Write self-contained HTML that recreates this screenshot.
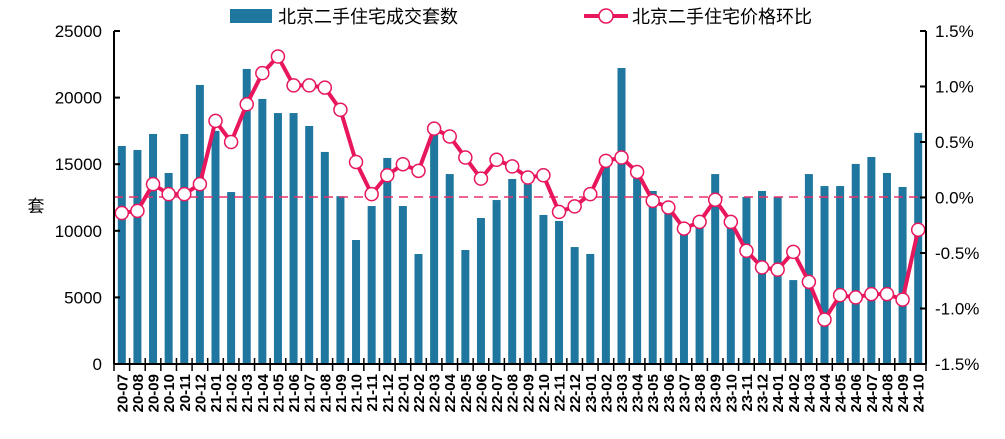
<!DOCTYPE html>
<html><head><meta charset="utf-8"><style>
body{margin:0;background:#fff;}
svg text{font-family:"Liberation Sans","Noto Sans CJK SC",sans-serif;}
</style></head><body>
<svg id="chart" width="1005" height="434" xmlns="http://www.w3.org/2000/svg">
<g id="bars"></g>
<line x1="114" x2="926" y1="197" y2="197" stroke="#e8306a" stroke-width="1.5" stroke-dasharray="9,6"/>
<g id="line"></g>
<g id="axes"></g>
<g>
<rect x="230" y="9" width="42" height="14" fill="#1f77a0"/>
<text x="278" y="23" font-size="18" fill="#000">北京二手住宅成交套数</text>
<line x1="584" x2="628" y1="16" y2="16" stroke="#e8175d" stroke-width="4"/>
<circle cx="606" cy="16" r="7" fill="#fff" stroke="#e8175d" stroke-width="1.5"/>
<text x="632" y="23" font-size="18" fill="#000">北京二手住宅价格环比</text>
</g>
<text x="36" y="212" font-size="17" text-anchor="middle">套</text>
</svg>
<script>
const categories=["20-07","20-08","20-09","20-10","20-11","20-12","21-01","21-02","21-03","21-04","21-05","21-06","21-07","21-08","21-09","21-10","21-11","21-12","22-01","22-02","22-03","22-04","22-05","22-06","22-07","22-08","22-09","22-10","22-11","22-12","23-01","23-02","23-03","23-04","23-05","23-06","23-07","23-08","23-09","23-10","23-11","23-12","24-01","24-02","24-03","24-04","24-05","24-06","24-07","24-08","24-09","24-10"];
const volumes=[16370,16070,17270,14340,17270,20950,17500,12910,22150,19900,18840,18840,17870,15920,12600,9310,11860,15470,11860,8260,17190,14260,8560,10960,12310,13890,13510,11190,10740,8780,8260,14860,22220,14040,12990,11900,9830,10290,14260,10800,12540,12990,12540,6300,14260,13360,13360,15020,15540,14340,13290,17350];
const priceMoM=[-0.14,-0.12,0.12,0.03,0.03,0.12,0.69,0.50,0.84,1.12,1.27,1.01,1.01,0.99,0.79,0.32,0.03,0.20,0.30,0.24,0.62,0.55,0.36,0.17,0.34,0.28,0.18,0.20,-0.13,-0.08,0.03,0.33,0.36,0.23,-0.03,-0.09,-0.28,-0.22,-0.02,-0.22,-0.48,-0.63,-0.65,-0.49,-0.76,-1.10,-0.88,-0.90,-0.87,-0.87,-0.92,-0.29];
const leftTicks=[0,5000,10000,15000,20000,25000];
const rightTicks=[-1.5,-1.0,-0.5,0.0,0.5,1.0,1.5];
const NS="http://www.w3.org/2000/svg";
const X0=114,X1=926,YT=31,YB=364;
const slot=(X1-X0)/categories.length;
const xc=i=>X0+slot*(i+0.5);
const yL=v=>YB-(v/25000)*(YB-YT);
const yR=v=>YB-((v+1.5)/3)*(YB-YT);
function mk(tag,attrs,parent){const e=document.createElementNS(NS,tag);for(const k in attrs)e.setAttribute(k,attrs[k]);parent.appendChild(e);return e;}
const gb=document.getElementById('bars'),gl=document.getElementById('line'),ga=document.getElementById('axes');
volumes.forEach((v,i)=>{const r=mk('rect',{x:xc(i)-4,y:yL(v),width:8,height:YB-yL(v),fill:'#1f77a0'},gb);

});
const pts=priceMoM.map((v,i)=>xc(i)+','+yR(v)).join(' ');
const pl=mk('polyline',{points:pts,fill:'none',stroke:'#e8175d','stroke-width':4,'stroke-linejoin':'round'},gl);


priceMoM.forEach((v,i)=>{const c=mk('circle',{cx:xc(i),cy:yR(v),r:6.5,fill:'#fff',stroke:'#e8175d','stroke-width':1.5},gl);

});
const al=mk('line',{x1:X0,x2:X0,y1:YT,y2:YB,stroke:'#000','stroke-width':2},ga);

const ar=mk('line',{x1:X1,x2:X1,y1:YT,y2:YB,stroke:'#000','stroke-width':2},ga);

const ab=mk('line',{x1:X0,x2:X1,y1:YB,y2:YB,stroke:'#000','stroke-width':2},ga);

leftTicks.forEach(t=>{mk('line',{x1:X0,x2:X0+6,y1:yL(t),y2:yL(t),stroke:'#000','stroke-width':2},ga);
const tx=mk('text',{x:102,y:yL(t)+6,'font-size':17,'text-anchor':'end'},ga);tx.textContent=t;
});
rightTicks.forEach(t=>{mk('line',{x1:X1-6,x2:X1,y1:yR(t),y2:yR(t),stroke:'#000','stroke-width':2},ga);
const tx=mk('text',{x:935,y:yR(t)+6,'font-size':17},ga);tx.textContent=t.toFixed(1)+'%';
});
for(let i=0;i<=categories.length;i++){const x=X0+slot*i;mk('line',{x1:x,x2:x,y1:YB-6,y2:YB+7,stroke:'#000','stroke-width':1.5},ga);}
categories.forEach((c,i)=>{const tx=mk('text',{x:0,y:0,'font-size':15,'font-weight':'bold','text-anchor':'end',transform:`translate(${xc(i)+5.5},${374}) rotate(-90)`},ga);tx.textContent=c;
});
</script>
</body></html>
